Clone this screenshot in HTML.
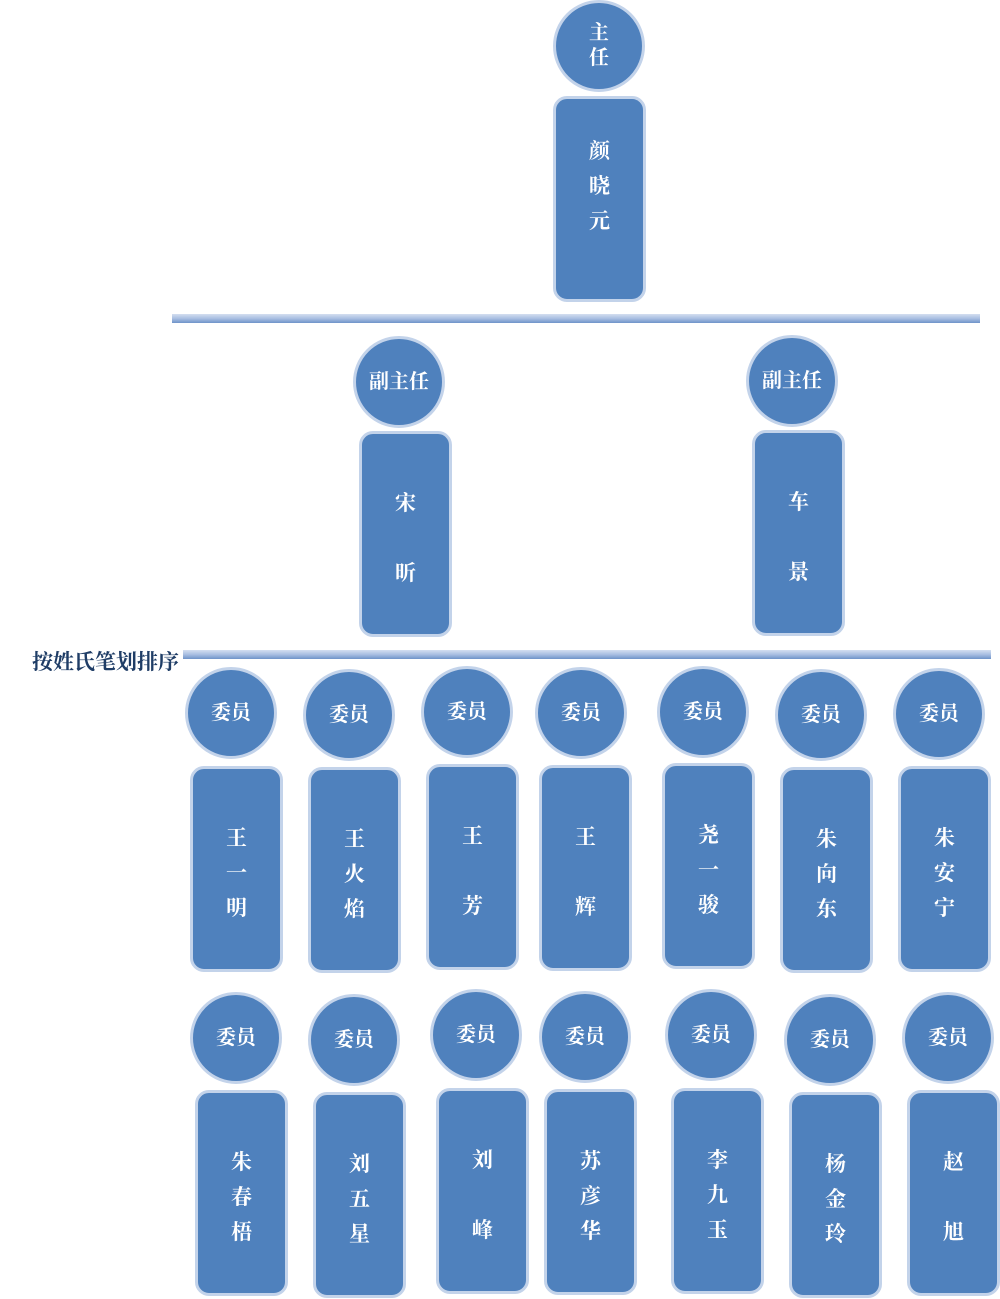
<!DOCTYPE html>
<html><head><meta charset="utf-8">
<style>
html,body{margin:0;padding:0;background:#fff;}
body{width:1000px;height:1299px;position:relative;overflow:hidden;font-family:"Liberation Serif","Noto Serif CJK SC","Noto Sans CJK SC",serif;font-weight:bold;}
.c{position:absolute;width:92px;height:92px;box-sizing:border-box;border-radius:50%;background:#4f81bd;border:3px solid #c3d3ea;color:#fff;display:flex;align-items:center;justify-content:center;text-align:center;font-size:20px;line-height:25px;}
.r{position:absolute;width:93px;height:206px;box-sizing:border-box;border-radius:14px;background:#4f81bd;border:3px solid #c3d3ea;color:#fff;font-size:21px;}
.r span{position:absolute;left:0;width:100%;text-align:center;line-height:24px;}
.ln{position:absolute;height:9px;background:linear-gradient(#d4def0,#a9bfe2 50%,#6f93c9);}
.lb{position:absolute;left:32px;top:646px;font-size:21px;color:#1f3d66;white-space:nowrap;}
</style></head><body>
<div class="c" style="left:553px;top:0px">主<br>任</div>
<div class="r" style="left:553px;top:96px"><span style="top:40px">颜</span><span style="top:75px">晓</span><span style="top:110px">元</span></div>
<div class="ln" style="left:172px;top:314px;width:808px"></div>

<div class="c" style="left:353px;top:336px">副主任</div>
<div class="r" style="left:359px;top:431px"><span style="top:57px">宋</span><span style="top:127px">昕</span></div>
<div class="c" style="left:746px;top:335px">副主任</div>
<div class="r" style="left:752px;top:430px"><span style="top:57px">车</span><span style="top:127px">景</span></div>

<div class="lb">按姓氏笔划排序</div>
<div class="ln" style="left:183px;top:650px;width:808px"></div>

<div class="c" style="left:185px;top:667px">委员</div>
<div class="r" style="left:190px;top:766px"><span style="top:57px">王</span><span style="top:92px">一</span><span style="top:127px">明</span></div>
<div class="c" style="left:303px;top:669px">委员</div>
<div class="r" style="left:308px;top:767px"><span style="top:57px">王</span><span style="top:92px">火</span><span style="top:127px">焰</span></div>
<div class="c" style="left:421px;top:666px">委员</div>
<div class="r" style="left:426px;top:764px"><span style="top:57px">王</span><span style="top:127px">芳</span></div>
<div class="c" style="left:535px;top:667px">委员</div>
<div class="r" style="left:539px;top:765px"><span style="top:57px">王</span><span style="top:127px">辉</span></div>
<div class="c" style="left:657px;top:666px">委员</div>
<div class="r" style="left:662px;top:763px"><span style="top:57px">尧</span><span style="top:92px">一</span><span style="top:127px">骏</span></div>
<div class="c" style="left:775px;top:669px">委员</div>
<div class="r" style="left:780px;top:767px"><span style="top:57px">朱</span><span style="top:92px">向</span><span style="top:127px">东</span></div>
<div class="c" style="left:893px;top:668px">委员</div>
<div class="r" style="left:898px;top:766px"><span style="top:57px">朱</span><span style="top:92px">安</span><span style="top:127px">宁</span></div>

<div class="c" style="left:190px;top:992px">委员</div>
<div class="r" style="left:195px;top:1090px"><span style="top:57px">朱</span><span style="top:92px">春</span><span style="top:127px">梧</span></div>
<div class="c" style="left:308px;top:994px">委员</div>
<div class="r" style="left:313px;top:1092px"><span style="top:57px">刘</span><span style="top:92px">五</span><span style="top:127px">星</span></div>
<div class="c" style="left:430px;top:989px">委员</div>
<div class="r" style="left:436px;top:1088px"><span style="top:57px">刘</span><span style="top:127px">峰</span></div>
<div class="c" style="left:539px;top:991px">委员</div>
<div class="r" style="left:544px;top:1089px"><span style="top:57px">苏</span><span style="top:92px">彦</span><span style="top:127px">华</span></div>
<div class="c" style="left:665px;top:989px">委员</div>
<div class="r" style="left:671px;top:1088px"><span style="top:57px">李</span><span style="top:92px">九</span><span style="top:127px">玉</span></div>
<div class="c" style="left:784px;top:994px">委员</div>
<div class="r" style="left:789px;top:1092px"><span style="top:57px">杨</span><span style="top:92px">金</span><span style="top:127px">玲</span></div>
<div class="c" style="left:902px;top:992px">委员</div>
<div class="r" style="left:907px;top:1090px"><span style="top:57px">赵</span><span style="top:127px">旭</span></div>
</body></html>
